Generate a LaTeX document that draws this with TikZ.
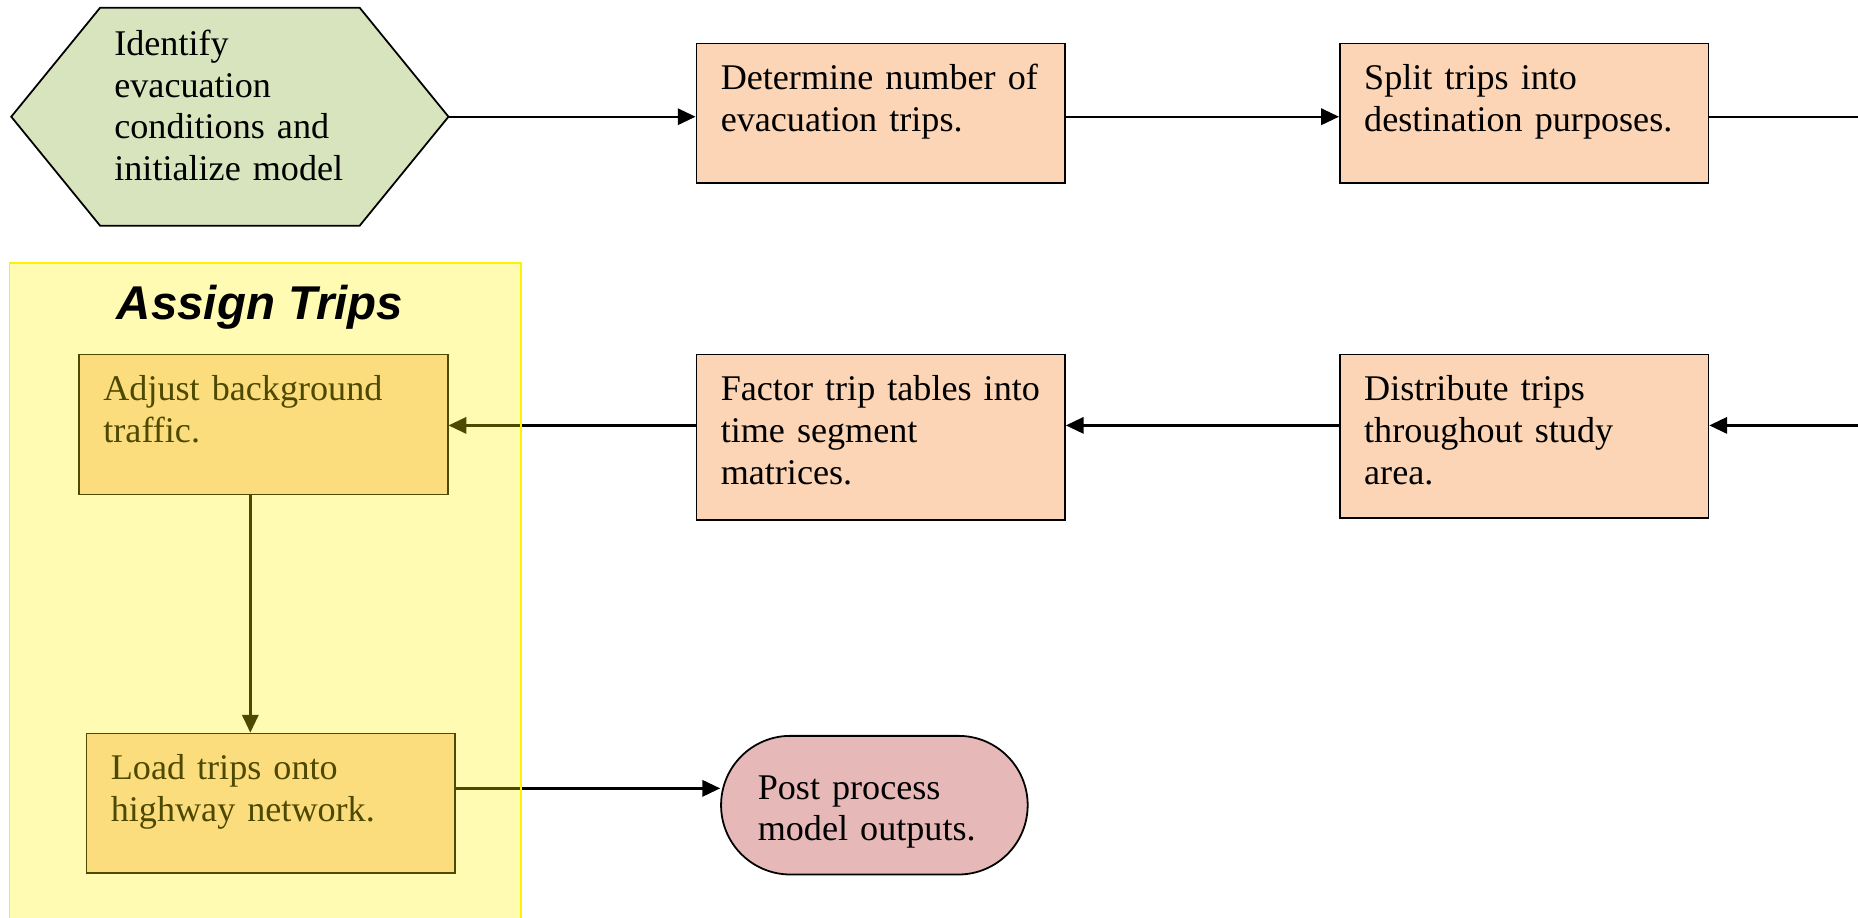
\documentclass[tikz,border=0pt]{standalone}
\usepackage{fontspec}
\setmainfont{Liberation Serif}
\setsansfont{Liberation Sans}
\usepackage{xcolor}
\usepackage{tikz}
\usetikzlibrary{arrows.meta,backgrounds}
\definecolor{peach}{HTML}{FBD5B5}
\definecolor{sage}{HTML}{D7E4BD}
\definecolor{rose}{HTML}{E6B9B8}

\begin{document}
\begin{tikzpicture}[x=0.4pt,y=-0.4pt,font=\fontsize{12.2}{14.1}\selectfont,
  proc/.style={draw,line width=0.6pt,fill=peach,anchor=north west,align=left,
    text width=108pt,inner xsep=8.2pt,inner ysep=4.6pt,text height=11pt,text depth=#1},
  flow/.style={line width=0.8pt,-{Triangle[length=6pt,width=5.5pt]}}]
\useasboundingbox (0,0) rectangle (1568,774);
\node[align=left,text width=78pt,minimum width=147.2pt,minimum height=73.2pt,inner sep=0pt,
  text height=11pt,text depth=52.5pt] (init) at (194,98.5)
  {Identify\\evacuation\\conditions and\\initialize model};
\begin{pgfonlayer}{background}
\draw[line width=0.6pt,fill=sage] (init.west) -- ([xshift=30pt]init.north west) -- ([xshift=-30pt]init.north east)
  -- (init.east) -- ([xshift=-30pt]init.south east) -- ([xshift=30pt]init.south west) -- cycle;
\end{pgfonlayer}
\foreach \n/\x/\y/\d/\t in {
  det/587/36/26.8/{Determine number of\\evacuation trips.},
  split/1130/36/26.8/{Split trips into\\destination purposes.},
  dist/1130/298.5/35/{Distribute trips\\throughout study\\area.},
  factor/587/298.5/35.6/{Factor trip tables into\\time segment\\matrices.},
  adjust/66/298.5/27/{Adjust background\\traffic.},
  load/72.3/618.3/27/{Load trips onto\\highway network.}}
  \node[proc=\d] (\n) at (\x,\y) {\t};
\node[draw,line width=0.6pt,fill=rose,rounded corners=23.4pt,minimum width=103.5pt,minimum height=46.8pt,
  text width=78.7pt,inner xsep=12.4pt,align=left,text height=11pt,text depth=15.1pt] (post) at (737.9,679.5)
  {Post process\\model outputs.};
\coordinate (e1) at (1570,98.5);
\coordinate (e2) at (1570,359);
\draw[flow] (init.east) -- (init.east -| det.west);
\draw[flow] (init.east -| det.east) -- (init.east -| split.west);
\draw[line width=0.8pt] (e1 -| split.east) -- (e1);
\draw[flow] (e2) -- (e2 -| dist.east);
\draw[flow] (e2 -| dist.west) -- (e2 -| factor.east);
\draw[flow] (e2 -| factor.west) -- (e2 -| adjust.east);
\draw[flow] ([xshift=-4.4pt]adjust.south) -- ([xshift=-4.4pt]adjust.south |- load.north);
\draw[flow] ([yshift=5.1pt]load.east) -- ([yshift=5.1pt]load.east -| post.west);
\fill[yellow,fill opacity=0.3] (8,222) rectangle (440,780);
\draw[yellow,line width=0.6pt] (8,780) |- (440,222) -- (440,780);
\node[font=\sffamily\bfseries\itshape\fontsize{16}{19}\selectfont,anchor=base] (ttl) at (219.5,270) {Assign Trips};
\end{tikzpicture}
\end{document}
